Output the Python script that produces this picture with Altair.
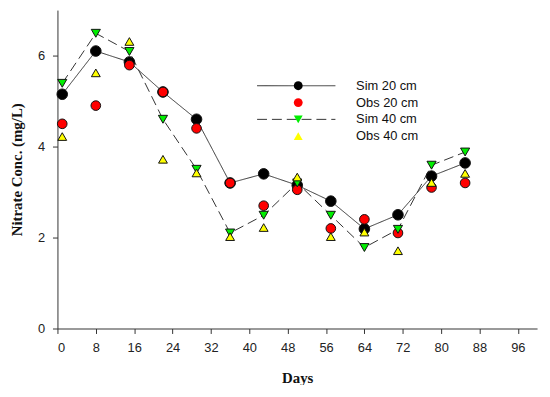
import altair as alt
import pandas as pd

days = [1, 8, 15, 22, 29, 36, 43, 50, 57, 64, 71, 78, 85]
sim20 = [5.15, 6.10, 5.86, 5.20, 4.60, 3.20, 3.40, 3.15, 2.80, 2.19, 2.50, 3.35, 3.64]
obs20 = [4.50, 4.90, 5.79, 5.20, 4.40, 3.20, 2.70, 3.05, 2.20, 2.40, 2.10, 3.10, 3.20]
sim40 = [5.39, 6.49, 6.09, 4.60, 3.50, 2.10, 2.49, 3.20, 2.49, 1.78, 2.18, 3.59, 3.88]
obs40 = [4.22, 5.62, 6.31, 3.72, 3.42, 2.02, 2.22, 3.33, 2.02, 2.12, 1.71, 3.21, 3.41]

series_names = ["Sim 20 cm", "Obs 20 cm", "Sim 40 cm", "Obs 40 cm"]
line_keys = ["a", "b", "c", "d"]
marker_shapes = ["circle", "circle", "triangle-down", "triangle-up"]
marker_fills = ["black", "#ff0000", "#00ee00", "#ffff00"]
marker_sizes = [115, 95, 85, 80]
x_ticks = list(range(0, 97, 8))
y_ticks = [0, 2, 4, 6]

rows = []
for name, key, vals in zip(series_names, line_keys, [sim20, obs20, sim40, obs40]):
    for d, v in zip(days, vals):
        rows.append({"day": d, "value": v, "series": name, "lkey": key})
df = pd.DataFrame(rows)

x = alt.X("day:Q", scale=alt.Scale(domain=[0, 100], nice=False),
          axis=alt.Axis(values=x_ticks, title="Days", labelPadding=8, titlePadding=17))
y = alt.Y("value:Q", scale=alt.Scale(domain=[0, 7], nice=False),
          axis=alt.Axis(values=y_ticks, title="Nitrate Conc. (mg/L)", labelPadding=8, titlePadding=13))

base = alt.Chart(df)

line_leg = alt.Legend(orient="none", legendX=235, legendY=70, title=None,
                      symbolType="M-7.2,0H7.2", symbolSize=121, symbolStrokeColor="#333",
                      symbolStrokeWidth=1, symbolFillColor="transparent",
                      labelOpacity=0, labelFontSize=13, rowPadding=3, padding=0)

lines = base.transform_filter(
    alt.FieldOneOfPredicate(field="lkey", oneOf=["a", "c"])
).mark_line(color="#333", strokeWidth=1).encode(
    x=x, y=y,
    strokeDash=alt.StrokeDash("lkey:N", scale=alt.Scale(
        domain=line_keys, range=[[1, 0], [0, 1000], [10, 5], [0, 1000]]), legend=line_leg),
)

pt_leg = alt.Legend(orient="none", legendX=237, legendY=70, title=None,
                    symbolSize=80, symbolStrokeColor="#111", symbolStrokeWidth=1,
                    labelFont="Liberation Sans", labelFontSize=13, labelColor="#111",
                    labelOffset=52, rowPadding=3, padding=0)

layers = [lines]
for name, size in zip(series_names, marker_sizes):
    layers.append(
        base.transform_filter(alt.datum.series == name).mark_point(
            filled=False, size=size, stroke="#111", strokeWidth=1, opacity=1
        ).encode(
            x=x, y=y,
            shape=alt.Shape("series:N", scale=alt.Scale(domain=series_names, range=marker_shapes), legend=pt_leg),
            fill=alt.Fill("series:N", scale=alt.Scale(domain=series_names, range=marker_fills), legend=pt_leg),
        )
    )

chart = alt.layer(*layers).properties(
    width=485, height=322,
    autosize=alt.AutoSizeParams(type="none"),
    padding={"left": 50, "top": 0, "right": 5, "bottom": 55},
).configure_view(stroke=None).configure_axis(
    grid=False, domainColor="#333", tickColor="#333", tickSize=5,
    labelFont="Liberation Sans", labelFontSize=13, labelColor="#222",
    titleFont="Liberation Serif", titleFontWeight="bold", titleFontSize=15, titleColor="#111",
)

chart.save("out.html", embed_options={"renderer": "svg", "actions": False})
